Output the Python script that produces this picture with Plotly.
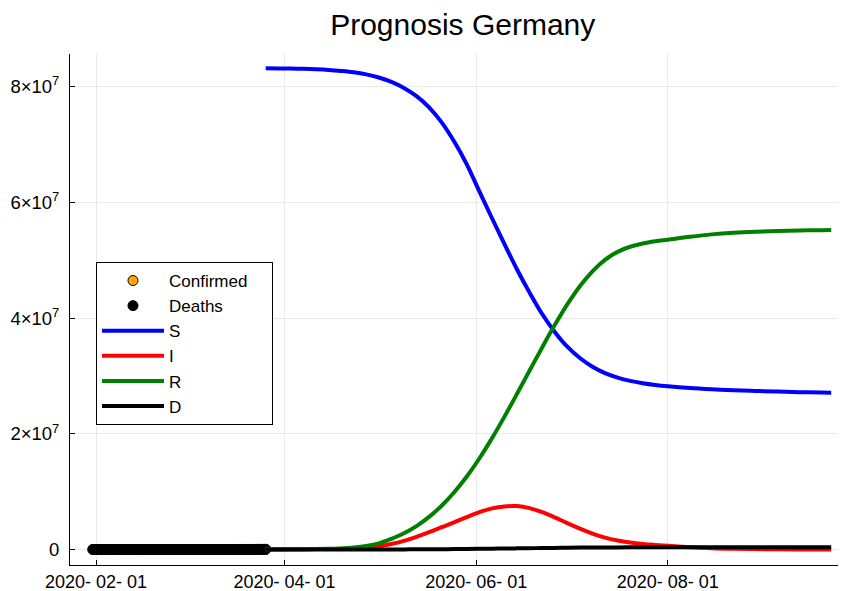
import plotly.graph_objects as go
import pandas as pd

# ---- observed data (daily, 2020-01-31 .. 2020-03-26) ----
obs_dates = pd.date_range("2020-01-31", "2020-03-26", freq="D")
confirmed = [5,
             8, 10, 12, 12, 12, 12, 13, 13, 14, 14, 16, 16, 16, 16, 16, 16, 16, 16, 16, 16,
             16, 16, 16, 16, 17, 27, 46, 48, 79,
             130, 159, 196, 262, 482, 670, 799, 1040, 1176, 1457, 1908, 2078, 3675, 4585,
             5795, 7272, 9257, 12327, 15320, 19848, 22213, 24873, 29056, 32986, 37323, 43938]
deaths = [0,
          0, 0, 0, 0, 0, 0, 0, 0, 0, 0, 0, 0, 0, 0, 0, 0, 0, 0, 0, 0,
          0, 0, 0, 0, 0, 0, 0, 0, 0,
          0, 0, 0, 0, 0, 0, 0, 0, 2, 2, 3, 3, 7, 9,
          11, 17, 24, 28, 44, 67, 84, 94, 123, 157, 206, 267]

# ---- model prognosis samples ----
model_dates = ["2020-03-26", "2020-03-30", "2020-04-03", "2020-04-07", "2020-04-11",
               "2020-04-15", "2020-04-19", "2020-04-23", "2020-04-27", "2020-05-01",
               "2020-05-05", "2020-05-09", "2020-05-13", "2020-05-17", "2020-05-21",
               "2020-05-25", "2020-05-29", "2020-06-02", "2020-06-06", "2020-06-10",
               "2020-06-14", "2020-06-18", "2020-06-22", "2020-06-26", "2020-06-30",
               "2020-07-04", "2020-07-08", "2020-07-12", "2020-07-16", "2020-07-20",
               "2020-07-24", "2020-07-28", "2020-08-01", "2020-08-08", "2020-08-15",
               "2020-08-22", "2020-08-29", "2020-09-05", "2020-09-12", "2020-09-19",
               "2020-09-22"]
S = [8.318e7, 8.316e7, 8.313e7, 8.308e7, 8.300e7, 8.289e7, 8.272e7, 8.249e7, 8.213e7, 8.159e7,
     8.083e7, 7.979e7, 7.837e7, 7.643e7, 7.383e7, 7.051e7, 6.657e7, 6.19e7, 5.73e7, 5.28e7,
     4.84e7, 4.44e7, 4.07e7, 3.76e7, 3.505e7, 3.31e7, 3.16e7, 3.05e7, 2.972e7, 2.915e7,
     2.875e7, 2.845e7, 2.822e7, 2.79e7, 2.768e7, 2.752e7, 2.74e7, 2.729e7, 2.72e7, 2.714e7,
     2.711e7]
I = [4.0e4, 4.5e4, 5.0e4, 6.0e4, 7.5e4, 9.5e4, 1.2e5, 1.6e5, 3.0e5, 5.5e5,
     9.5e5, 1.5e6, 2.2e6, 3.0e6, 3.85e6, 4.7e6, 5.6e6, 6.45e6, 7.1e6, 7.45e6,
     7.5e6, 7.15e6, 6.45e6, 5.55e6, 4.55e6, 3.6e6, 2.75e6, 2.05e6, 1.55e6, 1.2e6,
     9.5e5, 7.8e5, 6.4e5, 4.0e5, 2.2e5, 1.2e5, 7.0e4, 4.0e4, 2.0e4, 1.0e4,
     1.0e4]
R = [1.0e4, 1.5e4, 2.5e4, 4.0e4, 6.5e4, 1.1e5, 1.9e5, 3.4e5, 6.0e5, 1.05e6,
     1.85e6, 2.81e6, 4.05e6, 5.63e6, 7.57e6, 9.89e6, 1.261e7, 1.573e7, 1.921e7, 2.297e7,
     2.691e7, 3.093e7, 3.493e7, 3.879e7, 4.237e7, 4.551e7, 4.809e7, 5.007e7, 5.145e7, 5.233e7,
     5.289e7, 5.327e7, 5.355e7, 5.405e7, 5.447e7, 5.475e7, 5.493e7, 5.505e7, 5.514e7, 5.52e7,
     5.523e7]
D = [3.0e2, 5.0e2, 8.0e2, 1.0e3, 1.2e3, 1.5e3, 2.0e3, 3.0e3, 4.5e3, 7.0e3,
     1.2e4, 1.9e4, 2.9e4, 4.1e4, 5.5e4, 7.1e4, 9.0e4, 1.13e5, 1.39e5, 1.66e5,
     1.94e5, 2.22e5, 2.51e5, 2.79e5, 3.04e5, 3.25e5, 3.42e5, 3.56e5, 3.66e5, 3.73e5,
     3.78e5, 3.82e5, 3.85e5, 3.89e5, 3.92e5, 3.94e5, 3.95e5, 3.96e5, 3.97e5, 3.98e5,
     3.98e5]

x_tickvals = ["2020-02-01", "2020-04-01", "2020-06-01", "2020-08-01"]
x_ticktext = ["2020- 02- 01", "2020- 04- 01", "2020- 06- 01", "2020- 08- 01"]
y_tickvals = [0, 2e7, 4e7, 6e7, 8e7]
y_ticktext = ["0", "2×10<sup>7</sup>", "4×10<sup>7</sup>", "6×10<sup>7</sup>", "8×10<sup>7</sup>"]

FONT = "Liberation Sans, Arial, Helvetica, sans-serif"

fig = go.Figure()
fig.add_trace(go.Scatter(x=obs_dates, y=confirmed, mode="markers", name="Confirmed\u00a0\u00a0\u00a0\u00a0",
                         marker=dict(color="#FFA500", size=10, line=dict(color="black", width=1))))
fig.add_trace(go.Scatter(x=obs_dates, y=deaths, mode="markers", name="Deaths",
                         marker=dict(color="black", size=10, line=dict(color="black", width=1))))
line_colors = {"S": "#0000FF", "I": "#FF0000", "R": "#008000", "D": "#000000"}
for name, vals in [("S", S), ("I", I), ("R", R), ("D", D)]:
    fig.add_trace(go.Scatter(x=model_dates, y=vals, mode="lines", name=name,
                             line=dict(color=line_colors[name], width=4, shape="spline", smoothing=1.0)))

fig.update_layout(
    width=838, height=583,
    margin=dict(l=62, r=0, t=46, b=26, pad=0),
    paper_bgcolor="white", plot_bgcolor="white",
    font=dict(family=FONT, size=18, color="black"),
    title=dict(text="Prognosis Germany", font=dict(family=FONT, size=30, color="black"),
               x=0.5426, xref="container", xanchor="center",
               y=1 - 16 / 583, yref="container", yanchor="middle"),
    showlegend=True,
    legend=dict(x=0.0335, y=0.593, xanchor="left", yanchor="top",
                bgcolor="white", bordercolor="black", borderwidth=1,
                font=dict(family=FONT, size=17, color="black"),
                itemwidth=62, tracegroupgap=0),
)
fig.update_xaxes(
    type="date",
    range=["2020-01-23 17:00", "2020-09-26 17:00"],
    tickvals=x_tickvals, ticktext=x_ticktext,
    showgrid=True, gridcolor="#e9e9e9", gridwidth=1,
    showline=True, linecolor="black", linewidth=1,
    ticks="inside", ticklen=5, tickcolor="black",
    zeroline=False, mirror=False,
    tickfont=dict(family=FONT, size=18, color="black"),
)
fig.update_yaxes(
    range=[-2.68e6, 8.565e7],
    tickvals=y_tickvals, ticktext=y_ticktext,
    showgrid=True, gridcolor="#e9e9e9", gridwidth=1,
    showline=True, linecolor="black", linewidth=1,
    ticks="inside", ticklen=5, tickcolor="black",
    zeroline=False, mirror=False,
    ticklabelstandoff=6,
    tickfont=dict(family=FONT, size=18.5, color="black"),
)

fig.write_html("out.html", config={"displayModeBar": False})
